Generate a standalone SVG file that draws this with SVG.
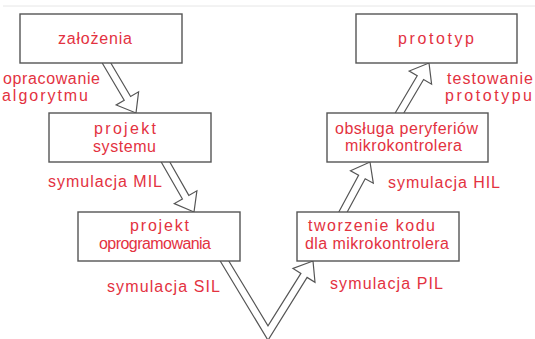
<svg xmlns="http://www.w3.org/2000/svg" width="535" height="339" viewBox="0 0 535 339">
<style>
.bg{fill:#ffffff}
.box{fill:#ffffff;stroke:#555555;stroke-width:1.4}
.arr{fill:none;stroke:#555555;stroke-width:1.2;stroke-linejoin:miter}
.t{font-family:"Liberation Sans",Arial,sans-serif;font-size:16px;fill:#e3323f}
</style>
<rect class="bg" x="0" y="0" width="535" height="339"/>
<line x1="3" y1="6" x2="535" y2="6" stroke="#e6e6e6" stroke-width="1"/>
<g id="connectors">
<path class="arr" d="M102.2,63 L124.2,100.3 L116.2,105 L136,113 L138.6,91.8 L130.6,96.5 L110.8,63"/>
<path class="arr" d="M161.2,162 L182.4,199 L174.3,203.6 L194,212 L196.9,190.8 L188.8,195.4 L169.8,162"/>
<path class="arr" d="M220.2,261 L268,340.2 L307.1,277.4 L315,282.3 L313,261 L293,268.5 L300.9,273.4 L268,325.8 L228.8,261"/>
<path class="arr" d="M338.8,212 L358.6,175.2 L350.5,170.8 L370,162 L373.3,183.2 L365.2,178.8 L347.2,212"/>
<path class="arr" d="M395.2,113 L417.2,75.7 L409.2,71 L429,63 L431.6,84.2 L423.6,79.5 L403.8,113"/>
</g>
<g id="zalozenia">
<rect class="box" x="20" y="14" width="162" height="49"/>
<text class="t" x="58" y="44" textLength="74">założenia</text>
</g>
<g id="projekt-systemu">
<rect class="box" x="49" y="113" width="162" height="49"/>
<text class="t" x="94" y="134" textLength="62">projekt</text>
<text class="t" x="93" y="152" textLength="63">systemu</text>
</g>
<g id="projekt-oprogramowania">
<rect class="box" x="78" y="212" width="162" height="49"/>
<text class="t" x="130" y="231" textLength="59">projekt</text>
<text class="t" x="99" y="249" textLength="112">oprogramowania</text>
</g>
<g id="tworzenie-kodu">
<rect class="box" x="297" y="212" width="162" height="49"/>
<text class="t" x="308" y="231" textLength="127">tworzenie kodu</text>
<text class="t" x="305" y="249" textLength="144">dla mikrokontrolera</text>
</g>
<g id="obsluga-peryferiow">
<rect class="box" x="327" y="113" width="161" height="49"/>
<text class="t" x="335" y="134" textLength="143">obsługa peryferiów</text>
<text class="t" x="345" y="151" textLength="117">mikrokontrolera</text>
</g>
<g id="prototyp">
<rect class="box" x="356" y="14" width="161" height="49"/>
<text class="t" x="398" y="44" textLength="76">prototyp</text>
</g>
<g id="labels">
<text class="t" x="3" y="84" textLength="97">opracowanie</text>
<text class="t" x="2" y="101" textLength="86">algorytmu</text>
<text class="t" x="447" y="84" textLength="86">testowanie</text>
<text class="t" x="445" y="101" textLength="87">prototypu</text>
<text class="t" x="48" y="187" textLength="114">symulacja MIL</text>
<text class="t" x="388" y="188" textLength="112">symulacja HIL</text>
<text class="t" x="107" y="292" textLength="113">symulacja SIL</text>
<text class="t" x="330" y="289" textLength="113">symulacja PIL</text>
</g>
</svg>
